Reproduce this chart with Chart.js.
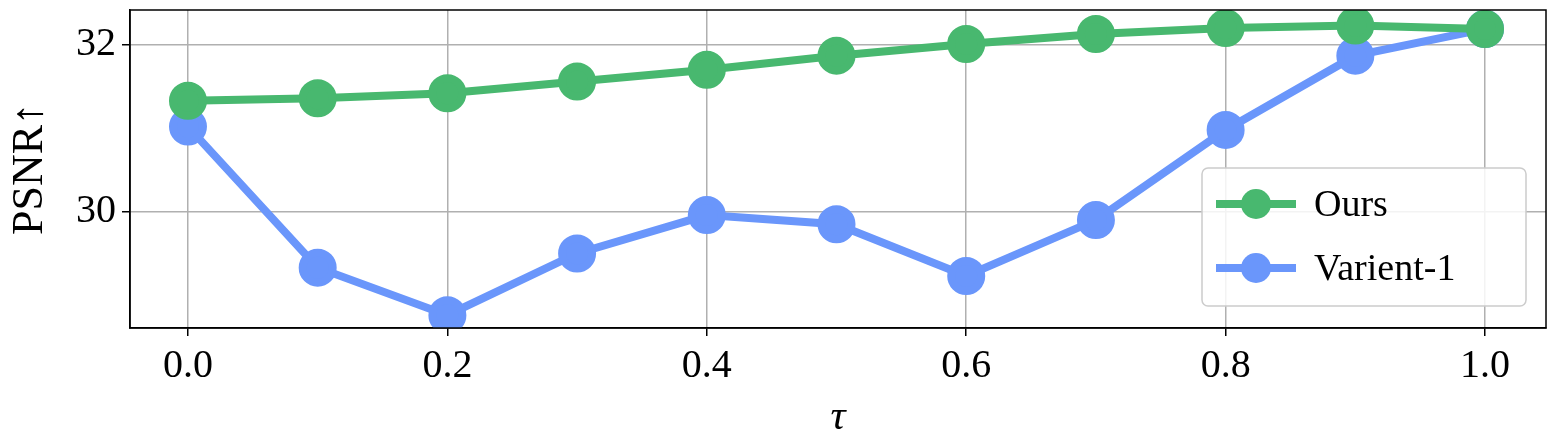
<!DOCTYPE html>
<html><head><script src="https://cdn.jsdelivr.net/npm/chart.js@4"></script>
<style>html,body{margin:0;padding:0;background:#fff;overflow:hidden;width:1558px;height:447px;position:relative}#c{display:block;position:absolute;left:0;top:-20px}</style></head>
<body><canvas id="c" width="1569" height="467"></canvas>
<script>
const taus=[0.0,0.1,0.2,0.3,0.4,0.5,0.6,0.7,0.8,0.9,1.0];
const ours=[31.33,31.36,31.42,31.56,31.70,31.87,32.01,32.13,32.20,32.23,32.19];
const varient=[31.02,29.33,28.76,29.50,29.96,29.85,29.23,29.90,30.98,31.87,32.19];
const xTicks=[0.0,0.2,0.4,0.6,0.8,1.0];
const yTicks=[30,32];
const labels=['Ours','Varient-1'];
const colors=['#48b86f','#6a96fb'];
const F='"Liberation Serif","DejaVu Serif",serif';
const legendPlugin={id:'boxLegend',afterDraw(ch){
 const c=ch.ctx,x0=1202,y0=168+20,w=324,h=138;
 c.save();c.fillStyle='rgba(255,255,255,0.85)';c.strokeStyle='#cccccc';c.lineWidth=1.5;
 c.beginPath();c.roundRect(x0,y0,w,h,6);c.fill();c.stroke();
 ch.data.datasets.forEach((d,i)=>{const y=y0+36+i*64;
  c.strokeStyle=d.borderColor;c.lineWidth=8;c.beginPath();c.moveTo(x0+14,y);c.lineTo(x0+94,y);c.stroke();
  c.fillStyle=d.borderColor;c.beginPath();c.arc(x0+54,y,15,0,Math.PI*2);c.fill();
  c.fillStyle='#000';c.font='38px '+F;c.textBaseline='middle';c.fillText(d.label,x0+112,y+2);});
 c.restore();}};
new Chart(document.getElementById('c'),{type:'line',
 data:{datasets:[
  {label:labels[0],data:taus.map((t,i)=>({x:t,y:ours[i]})),borderColor:colors[0],backgroundColor:colors[0],borderWidth:8,pointRadius:15,pointHoverRadius:15},
  {label:labels[1],data:taus.map((t,i)=>({x:t,y:varient[i]})),borderColor:colors[1],backgroundColor:colors[1],borderWidth:8,pointRadius:15,pointHoverRadius:15}]},
 options:{responsive:false,animation:false,layout:{padding:{top:8,right:10,left:0,bottom:0}},
  plugins:{legend:{display:false},tooltip:{enabled:false}},
  scales:{
   x:{type:'linear',min:-0.0447,max:1.047,afterBuildTicks(a){a.ticks=xTicks.map(v=>({value:v}))},
    afterFit(a){a.height=119},
    ticks:{color:'#000',font:{size:40,family:F},callback:v=>v.toFixed(1),padding:6,maxRotation:0},
    grid:{color:'#b0b0b0',lineWidth:1.5,tickColor:'#000',tickLength:8},border:{color:'#000',width:1.5},
    title:{display:true,text:'τ',color:'#000',font:{size:42,family:F,style:'italic'},padding:{top:0}}},
   y:{min:28.607,max:32.417,afterBuildTicks(a){a.ticks=yTicks.map(v=>({value:v}))},
    afterFit(a){a.width=130},
    ticks:{color:'#000',font:{size:40,family:F},padding:6},
    grid:{color:'#b0b0b0',lineWidth:1.5,tickColor:'#000',tickLength:8},border:{color:'#000',width:1.5},
    title:{display:true,text:'PSNR↑',color:'#000',font:{size:44,family:F},padding:{bottom:2}}}}},
 plugins:[legendPlugin,{id:'frame',afterDraw(ch){const a=ch.chartArea,c=ch.ctx;c.save();c.strokeStyle='#000';c.lineWidth=1.5;c.strokeRect(a.left,a.top,a.right-a.left,a.bottom-a.top);c.restore();}}]});
</script></body></html>
